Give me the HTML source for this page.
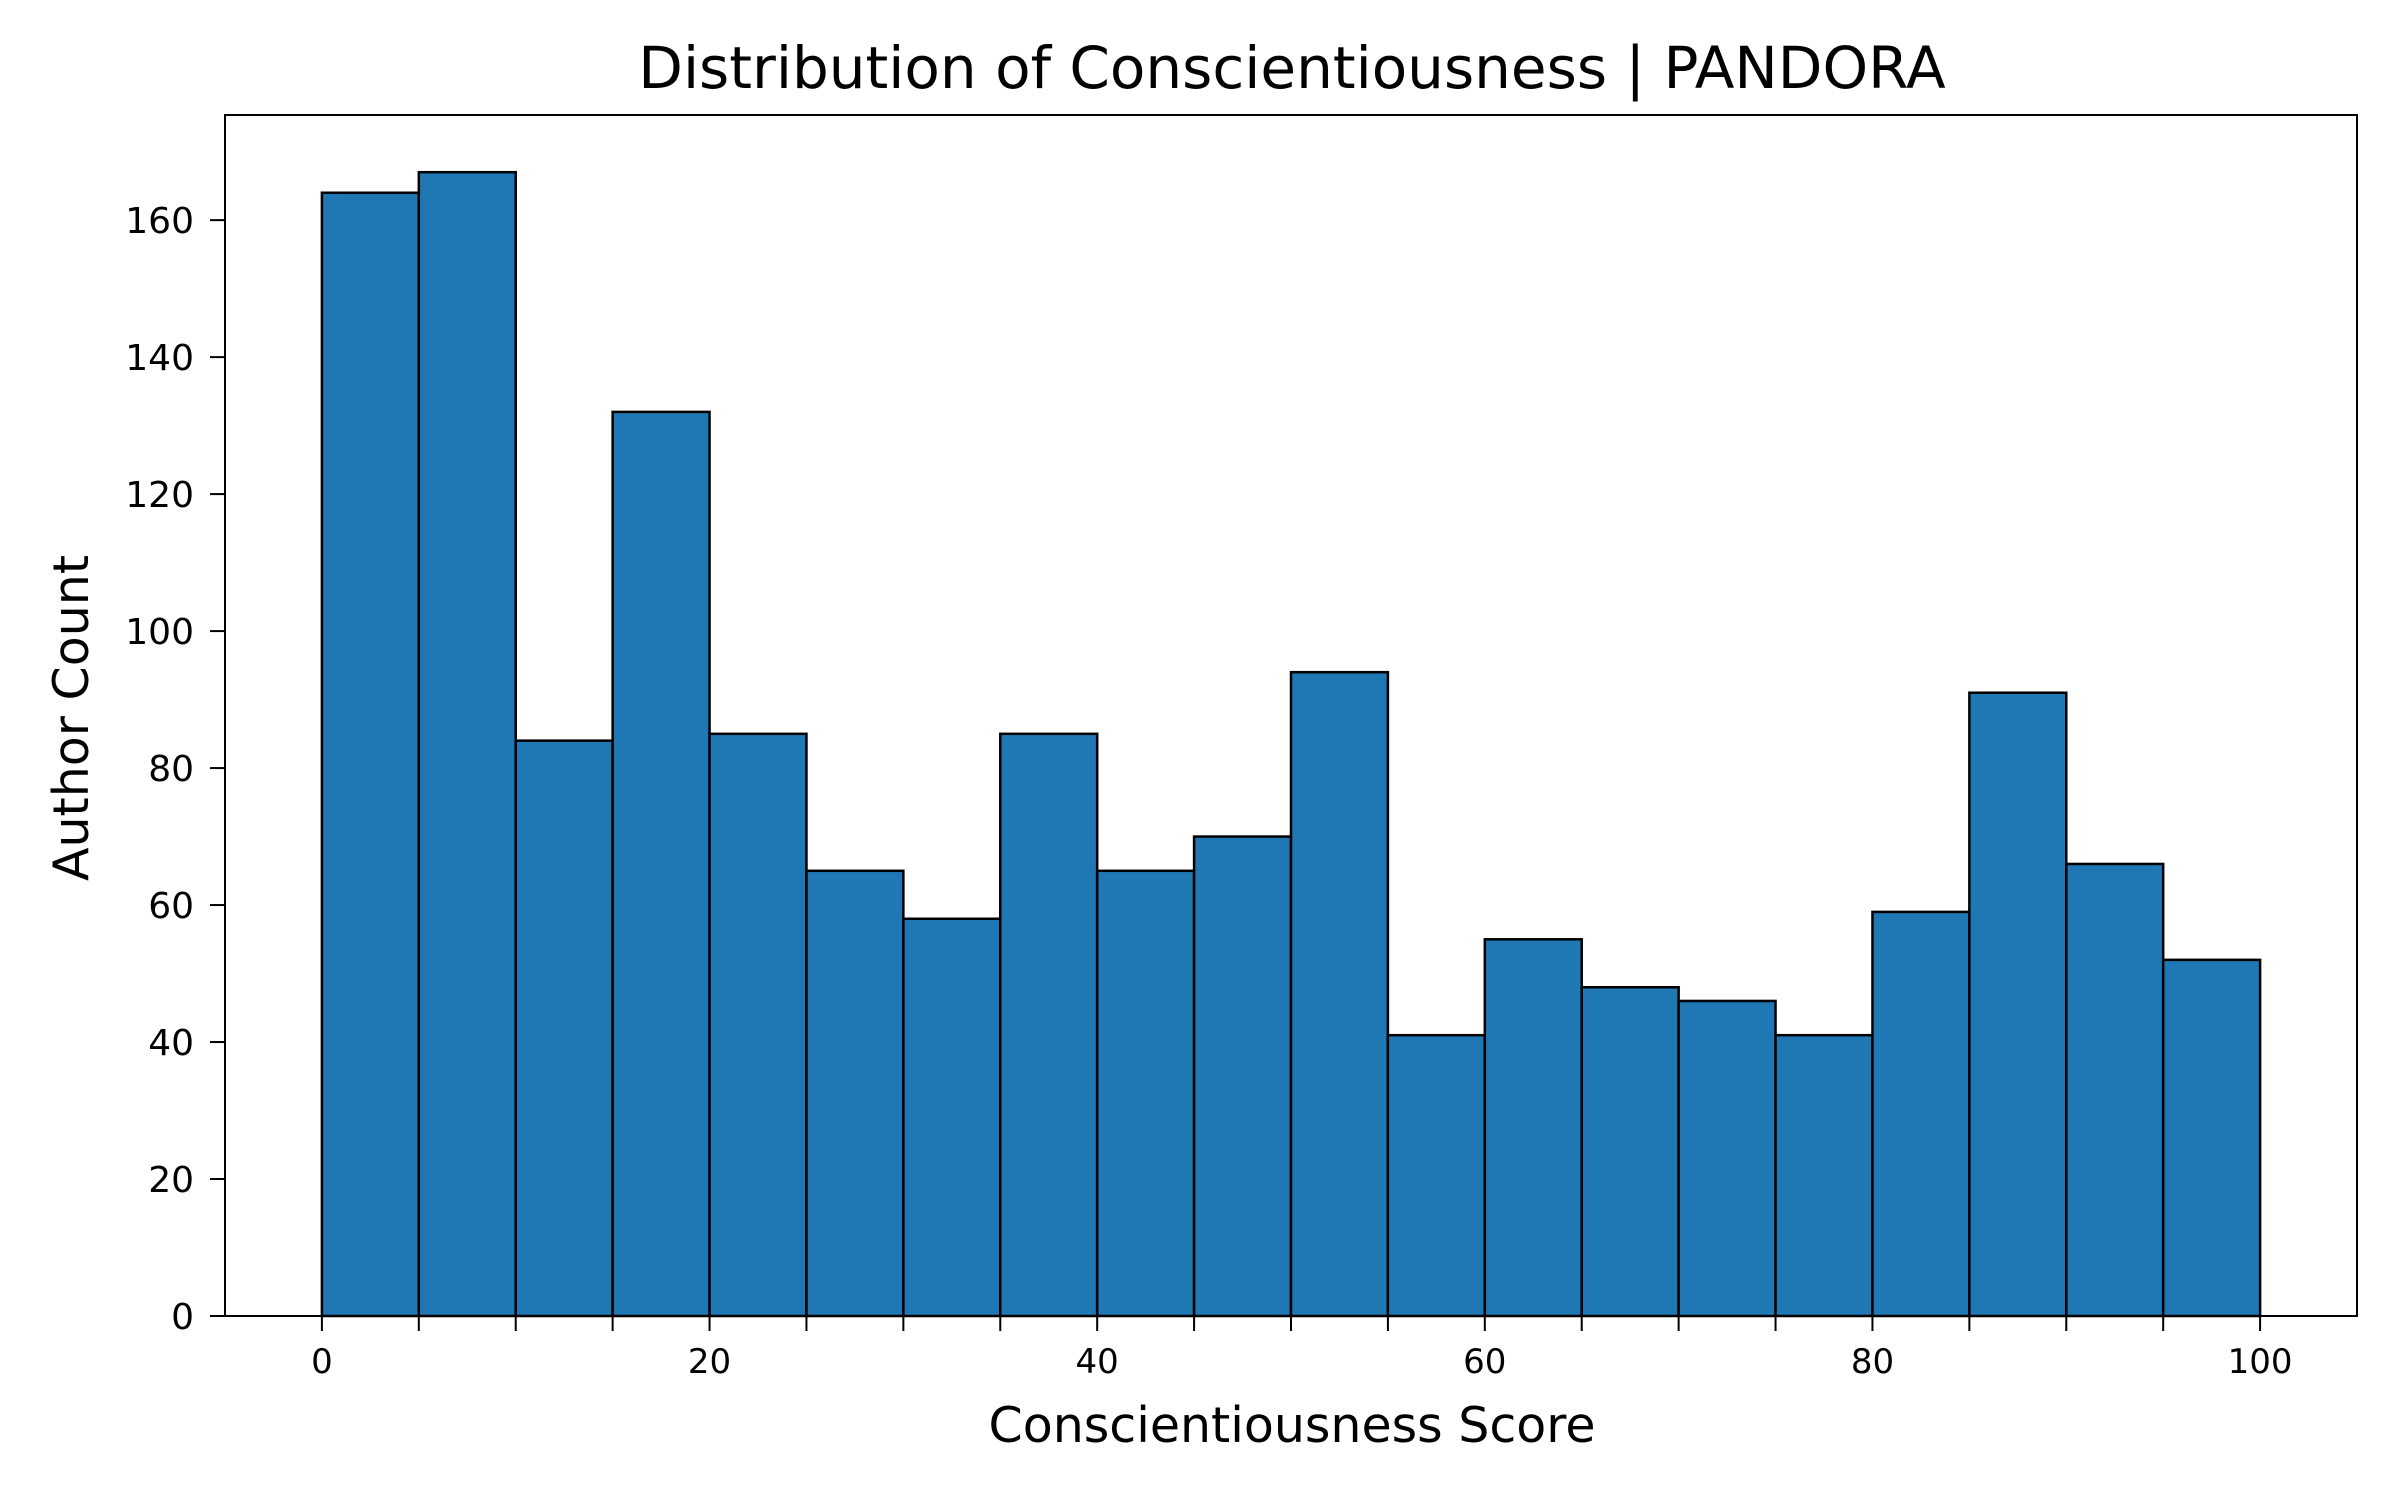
<!DOCTYPE html>
<html><head><meta charset="utf-8"><style>
html,body{margin:0;padding:0;background:#fff;}
svg{display:block;font-family:"DejaVu Sans","Liberation Sans",sans-serif;}
</style></head><body>
<svg id="chart" width="2400" height="1500" viewBox="0 0 2400 1500">
<rect x="0" y="0" width="2400" height="1500" fill="#fff"/>
<text x="1292" y="88" font-size="58" text-anchor="middle">Distribution of Conscientiousness | PANDORA</text>
<g id="bars"></g>
<g id="xaxis"></g>
<g id="yaxis"></g>
<rect x="225" y="115" width="2132" height="1201" fill="none" stroke="#000" stroke-width="2"/>
<text x="1292" y="1442" font-size="49" text-anchor="middle">Conscientiousness Score</text>
<text x="0" y="0" font-size="49" text-anchor="middle" transform="translate(88,718) rotate(-90)">Author Count</text>
</svg>
<script>
const binEdges = [0,5,10,15,20,25,30,35,40,45,50,55,60,65,70,75,80,85,90,95,100];
const counts = [164,167,84,132,85,65,58,85,65,70,94,41,55,48,46,41,59,91,66,52];
const xTicks = [0,20,40,60,80,100];
const xMinorTicks = [5,10,15,25,30,35,45,50,55,65,70,75,85,90,95];
const yTicks = [0,20,40,60,80,100,120,140,160];

const L=225,R=2357,T=115,B=1316;
const xMin=-5,xMax=105,yMin=0,yMax=175.35;
const xs=v=>L+(v-xMin)/(xMax-xMin)*(R-L);
const ys=v=>B-(v-yMin)/(yMax-yMin)*(B-T);
const NS='http://www.w3.org/2000/svg';
function mk(tag,attrs,parent){const e=document.createElementNS(NS,tag);for(const k in attrs)e.setAttribute(k,attrs[k]);parent.appendChild(e);return e;}
const bars=document.getElementById('bars');
counts.forEach((c,i)=>{
  const x0=xs(binEdges[i]),x1=xs(binEdges[i+1]);
  const r=mk('rect',{x:x0,y:ys(c),width:x1-x0,height:ys(0)-ys(c),fill:'#1f77b4',stroke:'#000','stroke-width':2.5},bars);
  
  
});
const xa=document.getElementById('xaxis');
xTicks.forEach(v=>{
  const l=mk('line',{x1:xs(v),x2:xs(v),y1:B,y2:B+15,stroke:'#000','stroke-width':2},xa);
  
  
  const t=mk('text',{x:xs(v),y:B+57,'font-size':34,'text-anchor':'middle'},xa);
  t.textContent=v;
  
  
});
xMinorTicks.forEach(v=>{
  const l=mk('line',{x1:xs(v),x2:xs(v),y1:B,y2:B+15,stroke:'#000','stroke-width':2},xa);
  
  
});
const ya=document.getElementById('yaxis');
yTicks.forEach(v=>{
  const l=mk('line',{x1:L-15,x2:L,y1:ys(v),y2:ys(v),stroke:'#000','stroke-width':2},ya);
  
  
  const t=mk('text',{x:L-31,y:ys(v)+13,'font-size':36,'text-anchor':'end'},ya);
  t.textContent=v;
  
  
});
</script>
</body></html>
